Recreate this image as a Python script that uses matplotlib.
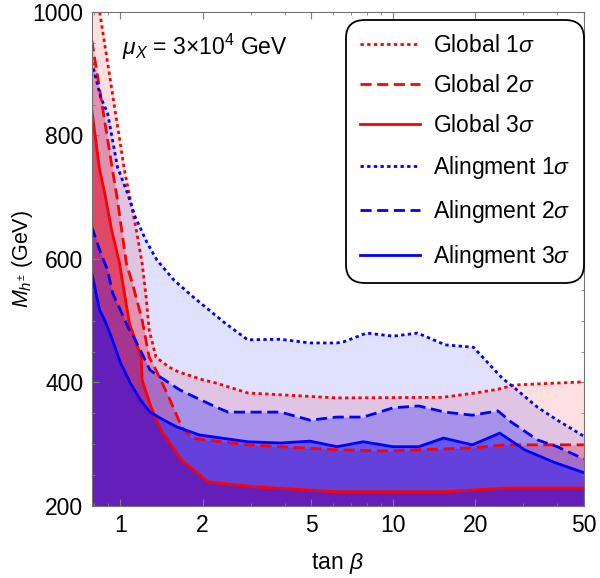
import numpy as np
import matplotlib.pyplot as plt
from matplotlib.ticker import FixedLocator, NullFormatter

plt.rcParams['font.family'] = ['Liberation Sans', 'DejaVu Sans']
plt.rcParams['mathtext.fontset'] = 'custom'
plt.rcParams['mathtext.rm'] = 'Liberation Sans'
plt.rcParams['mathtext.it'] = 'Liberation Sans:italic'

# Global fit bands (tan beta, M_h+- in GeV)
tb_g1 = [0.785, 0.839, 1.034, 1.075, 1.143, 1.201, 1.242, 1.274, 1.350, 1.505, 1.635, 2.016, 2.246, 2.93, 6.22, 15.2, 20.0, 24.2, 27.9, 50]
m_g1 = [1085, 1000, 744, 707, 647, 593, 538, 485, 441, 425, 417, 404, 399, 383, 375, 376, 383, 389, 396, 401]

tb_g2 = [0.785, 0.935, 0.975, 1.051, 1.105, 1.201, 1.274, 1.350, 1.505, 1.677, 1.824, 2.246, 2.93, 6.22, 9.43, 12.4, 19.5, 25.7, 50]
m_g2 = [954, 744, 695, 593, 561, 501, 441, 420, 376, 328, 310, 305, 299, 291, 289, 291, 294, 299, 299]

tb_g3 = [0.785, 0.839, 0.875, 0.928, 0.992, 1.078, 1.191, 1.201, 1.295, 1.407, 1.677, 2.10, 3.10, 6.22, 15.2, 20.0, 26.2, 50]
m_g3 = [841, 744, 707, 647, 593, 496, 441, 404, 360, 323, 274, 239, 231, 223, 223, 226, 229, 229]

# Alignment-limit bands
tb_a1 = [0.785, 0.846, 0.897, 0.935, 0.975, 1.060, 1.133, 1.253, 1.362, 1.569, 1.853, 2.42, 2.93, 3.86, 4.96, 6.22, 6.59, 7.99, 10.0, 12.3, 15.5, 19.7, 25.1, 27.9, 33.8, 40.0, 50]
m_a1 = [919, 862, 836, 793, 749, 707, 668, 626, 598, 566, 538, 496, 469, 470, 464, 464, 466, 480, 475, 480, 461, 457, 407, 391, 360, 339, 313]

tb_a2 = [0.785, 0.846, 0.897, 0.935, 1.000, 1.078, 1.133, 1.284, 1.396, 1.649, 1.902, 2.246, 2.48, 3.86, 4.96, 6.22, 7.77, 10.0, 12.4, 15.5, 19.5, 24.2, 27.1, 33.8, 40.0, 50]
m_a2 = [652, 610, 582, 545, 517, 485, 469, 420, 409, 388, 375, 360, 352, 352, 339, 344, 344, 359, 362, 352, 347, 354, 336, 307, 296, 276]

tb_a3 = [0.785, 0.839, 0.875, 0.935, 1.000, 1.087, 1.182, 1.284, 1.443, 1.609, 1.949, 2.93, 3.86, 4.96, 6.22, 7.77, 10.0, 12.4, 15.3, 19.5, 24.6, 30.3, 38.8, 50]
m_a3 = [577, 517, 501, 469, 432, 399, 372, 352, 339, 328, 315, 304, 302, 305, 296, 304, 296, 296, 310, 299, 318, 291, 271, 254]

labels = ['Global 1$\\sigma$', 'Global 2$\\sigma$', 'Global 3$\\sigma$',
          'Alingment 1$\\sigma$', 'Alingment 2$\\sigma$', 'Alingment 3$\\sigma$']

fig = plt.figure(figsize=(6, 5.78), dpi=100)
ax = fig.add_axes([0.153, 0.1246, 0.82, 0.8547])

curves = [(tb_g1, m_g1, 'red', 0.12, (0, (1.2, 1.2))),
          (tb_g2, m_g2, 'red', 0.25, (0, (4, 2))),
          (tb_g3, m_g3, 'red', 0.5, '-'),
          (tb_a1, m_a1, 'blue', 0.12, (0, (1.2, 1.2))),
          (tb_a2, m_a2, 'blue', 0.25, (0, (4, 2))),
          (tb_a3, m_a3, 'blue', 0.4, '-')]

for tb, m, c, a, ls in curves:
    ax.fill_between(tb, 200, m, color=c, alpha=a, lw=0)
for (tb, m, c, a, ls), lab in zip(curves, labels):
    ax.plot(tb, m, color=c, ls=ls, lw=2, label=lab)

ax.set_xscale('log')
ax.set_xlim(0.785, 50)
ax.set_ylim(200, 1000)
ax.xaxis.set_major_locator(FixedLocator([1, 2, 5, 10, 20, 50]))
ax.set_xticklabels(['1', '2', '5', '10', '20', '50'])
ax.xaxis.set_minor_locator(FixedLocator([0.8, 0.9, 3, 4, 6, 7, 8, 9, 30, 40]))
ax.xaxis.set_minor_formatter(NullFormatter())
ax.set_yticks([200, 400, 600, 800, 1000])
ax.set_yticks(np.arange(200, 1000, 50), minor=True)
ax.tick_params(which='both', direction='in', top=True, right=True, labelsize=16.5, color='0.5')
ax.tick_params(which='major', length=5, pad=6)
ax.tick_params(which='minor', length=2.5)
for s in ax.spines.values():
    s.set_color('0.45')
    s.set_linewidth(0.8)

ax.set_xlabel('tan $\\beta$', fontsize=16.5, labelpad=10)
ax.set_ylabel('$M_{h^{\\pm}}$ (GeV)', fontsize=15.5)
ax.yaxis.set_label_coords(-0.115, 0.5)
ax.text(0.061, 0.929, '$\\mu_X$ = 3×10$^4$ GeV', transform=ax.transAxes, fontsize=16.5, va='center')

leg = ax.legend(loc='upper right', fontsize=16.5, handlelength=2.6, labelspacing=0.75,
                borderpad=0.6, handletextpad=0.57, borderaxespad=0,
                bbox_to_anchor=(1.0, 0.984), fancybox=True)
leg.get_frame().set_edgecolor('black')
leg.get_frame().set_linewidth(1.3)
leg.get_frame().set_alpha(1)
leg.get_frame().set_boxstyle('round,pad=0,rounding_size=0.8')

plt.savefig('out.png')
